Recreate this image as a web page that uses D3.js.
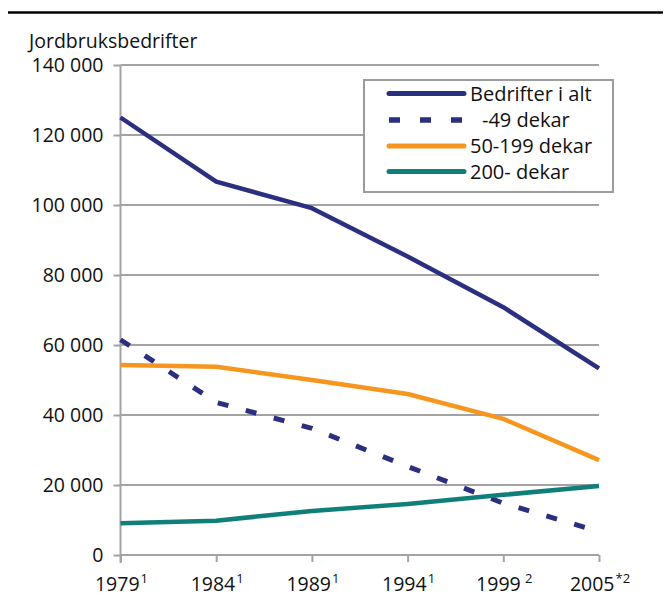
<!DOCTYPE html>
<html>
<head>
<meta charset="utf-8">
<script src="https://cdn.jsdelivr.net/npm/d3@7"></script>
<style>
  html, body { margin: 0; padding: 0; background: #fff; }
  svg { display: block; font-family: "Open Sans", "Noto Sans", sans-serif; }
</style>
</head>
<body>
<svg id="chart" width="665" height="599"></svg>
<script>
const years = ["1979", "1984", "1989", "1994", "1999", "2005"];
const yearNotes = ["1", "1", "1", "1", " 2", "*2"];
const seriesNames = ["Bedrifter i alt", "-49 dekar", "50-199 dekar", "200- dekar"];
const totalValues = [125000, 106700, 99100, 85300, 70800, 53300];
const smallValues = [61500, 43600, 36200, 25300, 14800, 6700];
const midValues = [54300, 53800, 50000, 46000, 38900, 27100];
const largeValues = [9100, 9800, 12600, 14600, 17200, 19700];
const yTicks = [0, 20000, 40000, 60000, 80000, 100000, 120000, 140000];
const yTitle = "Jordbruksbedrifter";

const colors = ["#2a2f7f", "#2a2f7f", "#f7961f", "#0f7f78"];
const dashes = [null, "11,18", null, null];
const seriesValues = [totalValues, smallValues, midValues, largeValues];

const svg = d3.select("#chart");
const gridColor = "#a3a3a3";
const textColor = "#111";
const fs = 19.5;

const x = d3.scalePoint().domain(years).range([120.5, 599]).padding(0);
const y = d3.scaleLinear().domain([0, 140000]).range([555, 65]);

// top rule
svg.append("line")
  .attr("x1", 8).attr("x2", 663).attr("y1", 12.5).attr("y2", 12.5)
  .attr("stroke", "#000").attr("stroke-width", 2.5);

// y title
svg.append("text")
  .attr("x", 29).attr("y", 48)
  .attr("font-size", fs).attr("fill", textColor)
  .text(yTitle);

// gridlines
svg.append("g").selectAll("line")
  .data(yTicks.filter(d => d > 0))
  .join("line")
  .attr("x1", 120.5).attr("x2", 599)
  .attr("y1", d => y(d)).attr("y2", d => y(d))
  .attr("stroke", gridColor).attr("stroke-width", 2);

// y axis
const fmt = d => d3.format(",")(d).replace(/,/g, "\u00a0");
const yAxis = d3.axisLeft(y).tickValues(yTicks).tickSize(7).tickPadding(10).tickFormat(fmt);
const gy = svg.append("g").attr("transform", "translate(120.5,0)").call(yAxis);
gy.select(".domain").attr("stroke", gridColor).attr("stroke-width", 2)
  .attr("d", `M0,${y(140000)}V${y(0) + 8}`);
gy.selectAll(".tick line").attr("stroke", gridColor).attr("stroke-width", 2);
gy.selectAll(".tick text").attr("font-size", fs).attr("fill", textColor)
  .attr("font-family", "'Open Sans', 'Noto Sans', sans-serif");

// x axis
const xAxis = d3.axisBottom(x).tickSize(7).tickFormat("");
const gx = svg.append("g").attr("transform", `translate(0,${y(0)})`).call(xAxis);
gx.select(".domain").attr("stroke", gridColor).attr("stroke-width", 2)
  .attr("d", `M${x(years[0])},0H${x(years[years.length - 1])}`);
gx.selectAll(".tick line").attr("stroke", gridColor).attr("stroke-width", 2);

const xl = svg.append("g").selectAll("text")
  .data(years)
  .join("text")
  .attr("x", d => x(d) + 1)
  .attr("y", 591)
  .attr("text-anchor", "middle")
  .attr("font-size", fs)
  .attr("fill", textColor);
xl.append("tspan").text(d => d);
xl.append("tspan")
  .attr("dy", -8)
  .attr("dx", 1)
  .attr("font-size", 13)
  .text((d, i) => yearNotes[i]);

// lines
const line = d3.line().x((d, i) => x(years[i])).y(d => y(d));
svg.append("g").selectAll("path")
  .data(seriesValues)
  .join("path")
  .attr("d", d => line(d))
  .attr("fill", "none")
  .attr("stroke", (d, i) => colors[i])
  .attr("stroke-width", (d, i) => dashes[i] ? 5 : 4.5)
  .attr("stroke-linejoin", "round")
  .attr("stroke-dasharray", (d, i) => dashes[i]);

// legend
const lg = svg.append("g");
lg.append("rect")
  .attr("x", 364).attr("y", 80).attr("width", 249).attr("height", 112)
  .attr("fill", "#fff").attr("stroke", "#9c9c9c").attr("stroke-width", 2);
const rowsY = [93.5, 120, 146, 171.5];
seriesNames.forEach((name, i) => {
  lg.append("line")
    .attr("x1", 389).attr("x2", 464)
    .attr("y1", rowsY[i]).attr("y2", rowsY[i])
    .attr("stroke", colors[i])
    .attr("stroke-width", dashes[i] ? 5.5 : 5)
    .attr("stroke-linecap", dashes[i] ? "butt" : "round")
    .attr("stroke-dasharray", dashes[i] ? "11,20" : null);
  lg.append("text")
    .attr("x", dashes[i] ? 482 : 470)
    .attr("y", rowsY[i] + 7)
    .attr("font-size", 20).attr("fill", textColor)
    .text(name);
});
</script>
</body>
</html>
